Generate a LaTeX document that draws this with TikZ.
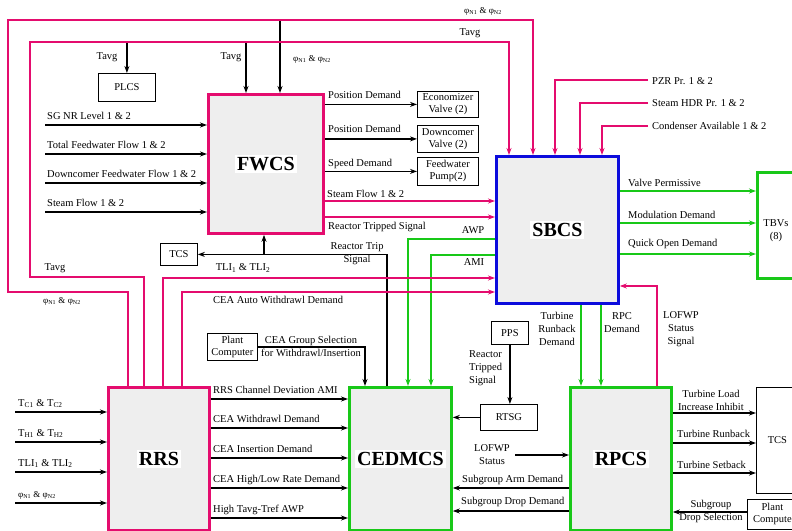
\documentclass[tikz,border=0pt]{standalone}
\usepackage{fontspec}
\setmainfont{Liberation Serif}
\usetikzlibrary{arrows.meta,calc}
\definecolor{pk}{RGB}{228,12,110}
\definecolor{gr}{RGB}{24,200,24}
\definecolor{bl}{RGB}{12,12,220}
\setlength{\fboxsep}{2pt}
\begin{document}
\begin{tikzpicture}[x=1pt,y=-1pt,
 >={Stealth[length=7pt,width=5pt]},
 lbl/.style={font=\fontsize{10.5}{13}\selectfont, inner sep=0pt},
 phl/.style={font=\fontsize{9}{11}\selectfont, inner sep=0pt},
 big/.style={draw, fill=gray!13, line width=2.8pt, anchor=north west, font=\bfseries\fontsize{20}{24}\selectfont, inner sep=0pt},
 sbox/.style={draw, line width=0.8pt, fill=white, anchor=north west, align=center, font=\fontsize{10.5}{12}\selectfont, inner sep=1pt},
 pkl/.style={draw=pk, line width=2.8pt},
 grl/.style={draw=gr, line width=2.8pt},
 bkl/.style={draw=black, line width=1.4pt},
]
\useasboundingbox (0,0) rectangle (792,530);
\clip (0,0) rectangle (792,530);

% ---------- main boxes ----------
\node[big, draw=pk, minimum width=115pt, minimum height=139pt] (fwcs) at (207,93) {\colorbox{white}{FWCS}};
\node[big, draw=bl, minimum width=122pt, minimum height=147pt] (sbcs) at (495,155) {\colorbox{white}{SBCS}};
\node[big, draw=pk, minimum width=101pt, minimum height=143pt] (rrs) at (107,386) {\colorbox{white}{RRS}};
\node[big, draw=gr, minimum width=102pt, minimum height=143pt] (cedmcs) at (348,386) {\colorbox{white}{CEDMCS}};
\node[big, draw=gr, minimum width=101pt, minimum height=143pt] (rpcs) at (569,386) {\colorbox{white}{RPCS}};

% ---------- small boxes ----------
\node[sbox, minimum width=57pt, minimum height=28pt] (plcs) at (98,73) {PLCS};
\node[sbox, minimum width=61pt, minimum height=26pt] (econ) at (417,91) {Economizer\\Valve (2)};
\node[sbox, minimum width=61pt, minimum height=27pt] (downc) at (417,125) {Downcomer\\Valve (2)};
\node[sbox, minimum width=61pt, minimum height=28pt] (fwp) at (417,157) {Feedwater\\Pump(2)};
\node[sbox, minimum width=37pt, minimum height=22pt] (tcsa) at (160,243) {TCS};
\node[sbox, minimum width=50pt, minimum height=27pt] (pca) at (207,333) {Plant\\Computer};
\node[sbox, minimum width=37pt, minimum height=23pt] (pps) at (491,321) {PPS};
\node[sbox, minimum width=57pt, minimum height=26pt] (rtsg) at (480,404) {RTSG};
\node[sbox, draw=gr, line width=2.8pt, minimum width=42pt, minimum height=106pt] (tbvs) at (756,171) {};
\node[lbl, align=center] (tbvtxt) at (776,231) {TBVs\\(8)};
\node[sbox, minimum width=42pt, minimum height=106pt] (tcsb) at (756,387) {TCS};
\node[sbox, minimum width=50pt, minimum height=30pt] (pcb) at (747,499) {Plant\\Compute};

% ---------- FWCS inputs ----------
\coordinate (i1) at (45,125);
\coordinate (i2) at (45,154);
\coordinate (i3) at (45,183);
\coordinate (i4) at (45,212);
\draw[bkl,->] (i1) -- (i1 -| fwcs.west);
\draw[bkl,->] (i2) -- (i2 -| fwcs.west);
\draw[bkl,->] (i3) -- (i3 -| fwcs.west);
\draw[bkl,->] (i4) -- (i4 -| fwcs.west);
\node[lbl, anchor=base west] (ti1) at (47,119) {SG NR Level 1 \& 2};
\node[lbl, anchor=base west] (ti2) at (47,148) {Total Feedwater Flow 1 \& 2};
\node[lbl, anchor=base west] (ti3) at (47,177) {Downcomer Feedwater Flow 1 \& 2};
\node[lbl, anchor=base west] (ti4) at (47,206) {Steam Flow 1 \& 2};

% ---------- FWCS outputs ----------
\draw[bkl,->] (fwcs.east |- econ.west) -- (econ.west);
\draw[bkl,->] (fwcs.east |- downc.west) -- (downc.west);
\draw[bkl,->] (fwcs.east |- fwp.west) -- (fwp.west);
\node[lbl, anchor=base west] (to1) at (328,98) {Position Demand};
\node[lbl, anchor=base west] (to2) at (328,132) {Position Demand};
\node[lbl, anchor=base west] (to3) at (328,166) {Speed Demand};

% ---------- black: reactor trip signal, plcs/fwcs feeds ----------
\draw[bkl,->] (cedmcs.north -| 387,0) |- (tcsa.east);
\draw[bkl,->] (tcsa.east -| 264,0) -- (fwcs.south -| 264,0);
\node[lbl, align=center] (rtl) at (357,254) {Reactor Trip\\Signal};
\coordinate (tavA) at (246,42);
\coordinate (phA) at (280,20);
\draw[bkl,->] (plcs.north |- 0,42) -- (plcs.north);
\draw[bkl,->] (tavA) -- (fwcs.north -| tavA);
\draw[bkl,->] (phA) -- (fwcs.north -| phA);
\draw[bkl,->] (pca.east) -| (cedmcs.north -| 365,0);
\node[lbl, align=center] (cgl) at (311,346) {CEA Group Selection\\for Withdrawl/Insertion};
\draw[bkl,->] (pps.south) -- (rtsg.north -| pps.south);
\node[lbl, align=left, anchor=west] (rtsl) at (469,368) {Reactor\\Tripped\\Signal};
\draw[bkl,->] (rtsg.west) -- (cedmcs.east |- rtsg.west);

% ---------- RRS inputs ----------
\coordinate (r1) at (15,412);
\coordinate (r2) at (15,442);
\coordinate (r3) at (15,472);
\coordinate (r4) at (15,503);
\draw[bkl,->] (r1) -- (r1 -| rrs.west);
\draw[bkl,->] (r2) -- (r2 -| rrs.west);
\draw[bkl,->] (r3) -- (r3 -| rrs.west);
\draw[bkl,->] (r4) -- (r4 -| rrs.west);
\node[lbl, anchor=base west] (tr1) at (18,406) {T\textsubscript{C1} \& T\textsubscript{C2}};
\node[lbl, anchor=base west] (tr2) at (18,436) {T\textsubscript{H1} \& T\textsubscript{H2}};
\node[lbl, anchor=base west] (tr3) at (18,466) {TLI\textsubscript{1} \& TLI\textsubscript{2}};
\node[phl, anchor=base west] (tr4) at (18,497) {φ\textsubscript{N1} \& φ\textsubscript{N2}};

% ---------- RRS -> CEDMCS ----------
\draw[bkl,->] (rrs.east |- 0,399) -- (cedmcs.west |- 0,399);
\draw[bkl,->] (rrs.east |- 0,428) -- (cedmcs.west |- 0,428);
\draw[bkl,->] (rrs.east |- 0,458) -- (cedmcs.west |- 0,458);
\draw[bkl,->] (rrs.east |- 0,488) -- (cedmcs.west |- 0,488);
\draw[bkl,->] (rrs.east |- 0,518) -- (cedmcs.west |- 0,518);
\node[lbl, anchor=base west] (rc1) at (213,393) {RRS Channel Deviation AMI};
\node[lbl, anchor=base west] (rc2) at (213,422) {CEA Withdrawl Demand};
\node[lbl, anchor=base west] (rc3) at (213,452) {CEA Insertion Demand};
\node[lbl, anchor=base west] (rc4) at (213,482) {CEA High/Low Rate Demand};
\node[lbl, anchor=base west] (rc5) at (213,512) {High Tavg-Tref AWP};

% ---------- RPCS <-> CEDMCS ----------
\coordinate (lof) at (515,455);
\draw[bkl,->] (lof) -- (rpcs.west |- lof);
\node[lbl, align=center] (lofl) at (492,455) {LOFWP\\Status};
\draw[bkl,->] (rpcs.west |- 0,488) -- (cedmcs.east |- 0,488);
\draw[bkl,->] (rpcs.west |- 0,511) -- (cedmcs.east |- 0,511);
\node[lbl, anchor=base west] (sga) at (462,482) {Subgroup Arm Demand};
\node[lbl, anchor=base west] (sgd) at (461,504) {Subgroup Drop Demand};

% ---------- RPCS -> TCS ----------
\draw[bkl,->] (rpcs.east |- 0,413) -- (tcsb.west |- 0,413);
\draw[bkl,->] (rpcs.east |- 0,443) -- (tcsb.west |- 0,443);
\draw[bkl,->] (rpcs.east |- 0,473) -- (tcsb.west |- 0,473);
\node[lbl, align=center] (tl1) at (711,400) {Turbine Load\\Increase Inhibit};
\node[lbl, anchor=base west] (tl2) at (677,437) {Turbine Runback};
\node[lbl, anchor=base west] (tl3) at (677,468) {Turbine Setback};
\draw[bkl,->] (pcb.west |- 0,512) -- (rpcs.east |- 0,512);
\node[lbl, align=center] (sds) at (711,511) {Subgroup\\Drop Selection};

% ---------- green ----------
\draw[grl,->] (sbcs.east |- 0,191) -- (tbvs.west |- 0,191);
\draw[grl,->] (sbcs.east |- 0,223) -- (tbvs.west |- 0,223);
\draw[grl,->] (sbcs.east |- 0,254) -- (tbvs.west |- 0,254);
\node[lbl, anchor=base west] (g1) at (628,186) {Valve Permissive};
\node[lbl, anchor=base west] (g2) at (628,218) {Modulation Demand};
\node[lbl, anchor=base west] (g3) at (628,246) {Quick Open Demand};
\draw[grl,->] (sbcs.west |- 0,239) -| (cedmcs.north -| 408,0);
\draw[grl,->] (sbcs.west |- 0,255) -| (cedmcs.north -| 431,0);
\node[lbl] (awp) at (473,230) {AWP};
\node[lbl] (ami) at (474,262) {AMI};
\draw[grl,->] (sbcs.south -| 581,0) -- (rpcs.north -| 581,0);
\draw[grl,->] (sbcs.south -| 601,0) -- (rpcs.north -| 601,0);
\node[lbl, align=center] (trd) at (557,329) {Turbine\\Runback\\Demand};
\node[lbl, align=center] (rpcd) at (622,323) {RPC\\Demand};
\node[lbl, align=center] (lfs) at (681,329) {LOFWP\\Status\\Signal};

% ---------- pink ----------
\draw[pkl,->] (rrs.north -| 144,0) -- (144,277) -- (30,277) -- (30,42) -- (509,42) -- (sbcs.north -| 509,0);
\draw[pkl,->] (rrs.north -| 128,0) -- (128,292) -- (8,292) -- (8,20) -- (533,20) -- (sbcs.north -| 533,0);
\draw[pkl,->] (rrs.north -| 163,0) |- (sbcs.west |- 0,278);
\draw[pkl,->] (rrs.north -| 182,0) |- (sbcs.west |- 0,292);
\draw[pkl,->] (fwcs.east |- 0,201) -- (sbcs.west |- 0,201);
\draw[pkl,->] (fwcs.east |- 0,217) -- (sbcs.west |- 0,217);
\draw[pkl,->] (rpcs.north -| 657,0) |- (sbcs.east |- 0,286);
\coordinate (pz1) at (648,80);
\coordinate (pz2) at (648,103);
\coordinate (pz3) at (648,126);
\draw[pkl,->] (pz1) -| (sbcs.north -| 555,0);
\draw[pkl,->] (pz2) -| (sbcs.north -| 580,0);
\draw[pkl,->] (pz3) -| (sbcs.north -| 602,0);
\node[lbl, anchor=west] (pzl1) at (652,81) {PZR Pr. 1 \& 2};
\node[lbl, anchor=west] (pzl2) at (652,103) {Steam HDR Pr. 1 \& 2};
\node[lbl, anchor=west] (pzl3) at (652,126) {Condenser Available 1 \& 2};

% ---------- loop labels ----------
\node[phl] (phtop) at (483,11) {φ\textsubscript{N1} \& φ\textsubscript{N2}};
\node[lbl] (tavtop) at (470,33) {Tavg};
\node[lbl] (tav1) at (107,57) {Tavg};
\node[lbl] (tav2) at (231,57) {Tavg};
\node[phl] (ph2) at (312,59) {φ\textsubscript{N1} \& φ\textsubscript{N2}};
\node[lbl] (tav3) at (55,268) {Tavg};
\node[phl] (ph3) at (62,301) {φ\textsubscript{N1} \& φ\textsubscript{N2}};
\node[lbl] (tlil) at (243,268) {TLI\textsubscript{1} \& TLI\textsubscript{2}};
\node[lbl, anchor=base west] (sfl) at (327,197) {Steam Flow 1 \& 2};
\node[lbl, anchor=base west] (rtsig) at (328,229) {Reactor Tripped Signal};
\node[lbl, anchor=base west] (caw) at (213,303) {CEA Auto Withdrawl Demand};
\end{tikzpicture}
\end{document}
